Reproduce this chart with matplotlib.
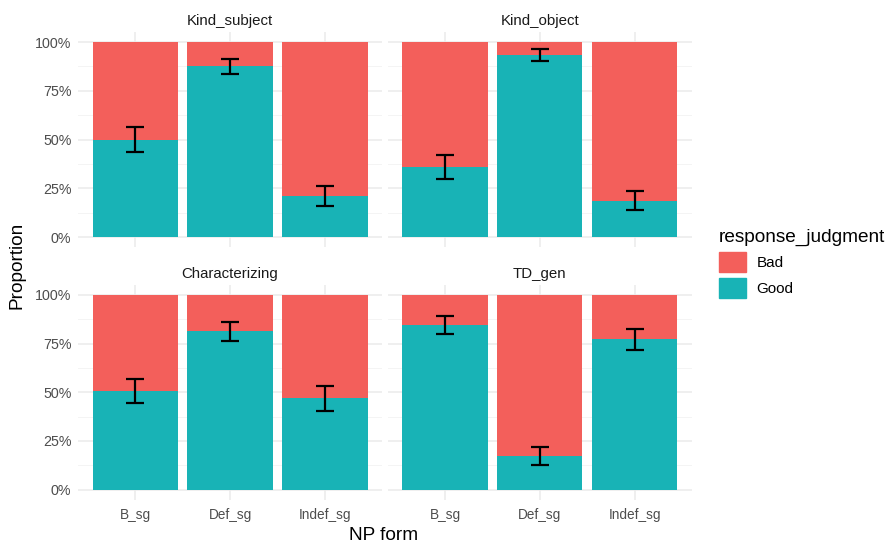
import numpy as np
import matplotlib.pyplot as plt
from matplotlib.patches import Patch
plt.rcParams['font.family'] = ['Liberation Sans', 'DejaVu Sans']

# 数据
np_forms = ['B_sg', 'Def_sg', 'Indef_sg']
panels = ['Kind_subject', 'Kind_object', 'Characterizing', 'TD_gen']
good = {
    'Kind_subject':   [0.50, 0.875, 0.21],
    'Kind_object':    [0.357, 0.935, 0.186],
    'Characterizing': [0.505, 0.812, 0.468],
    'TD_gen':         [0.843, 0.175, 0.771],
}
err_low = {
    'Kind_subject':   [0.436, 0.836, 0.157],
    'Kind_object':    [0.297, 0.904, 0.14],
    'Characterizing': [0.443, 0.762, 0.404],
    'TD_gen':         [0.80, 0.125, 0.716],
}
err_high = {
    'Kind_subject':   [0.564, 0.914, 0.262],
    'Kind_object':    [0.419, 0.964, 0.236],
    'Characterizing': [0.570, 0.861, 0.532],
    'TD_gen':         [0.892, 0.221, 0.822],
}

bad_color = '#F35F5B'
good_color = '#18B3B6'

fig = plt.figure(figsize=(8.86, 5.42), dpi=100)
W, H = 886, 542
lefts = [78.4, 388.1]
tops = [32.25, 285.0]
pw, ph = 303.4, 214.5

x = np.arange(1, 4)
for i, name in enumerate(panels):
    r, c = divmod(i, 2)
    ax = fig.add_axes([lefts[c] / W, 1 - (tops[r] + ph) / H, pw / W, ph / H])
    g = np.array(good[name])
    lo = np.array(err_low[name])
    hi = np.array(err_high[name])
    ax.bar(x, g, width=0.9, color=good_color, zorder=2)
    ax.bar(x, 1 - g, bottom=g, width=0.9, color=bad_color, zorder=2)
    ax.errorbar(x, (lo + hi) / 2, yerr=(hi - lo) / 2, fmt='none', ecolor='black',
                elinewidth=1.6, capsize=6.3, capthick=1.6, zorder=3)
    ax.set_xlim(0.4, 3.6)
    ax.set_ylim(-0.05, 1.05)
    ax.set_yticks([0, 0.25, 0.5, 0.75, 1.0])
    ax.set_yticks([0.125, 0.375, 0.625, 0.875], minor=True)
    ax.set_xticks(x)
    ax.grid(True, which='major', color='#EBEBEB', linewidth=1.1, zorder=0)
    ax.grid(True, which='minor', axis='y', color='#F2F2F2', linewidth=0.6, zorder=0)
    for s in ax.spines.values():
        s.set_visible(False)
    ax.tick_params(axis='x', length=0, labelsize=9.8, labelcolor='#4D4D4D', pad=6)
    ax.tick_params(axis='y', length=0, labelsize=10.3, labelcolor='#4D4D4D', pad=5)
    ax.tick_params(which='minor', length=0)
    ax.set_axisbelow(True)
    if c == 0:
        ax.set_yticklabels(['0%', '25%', '50%', '75%', '100%'])
    else:
        ax.set_yticklabels([])
    if r == 1:
        ax.set_xticklabels(np_forms)
    else:
        ax.set_xticklabels([])
    ax.set_title(name, fontsize=10.8, color='#1A1A1A', pad=5)

fig.text(384 / W, 1 - 535 / H, 'NP form', ha='center', va='center', fontsize=13.7)
fig.text(17 / W, 1 - 265 / H, 'Proportion', ha='center', va='center',
         rotation=90, fontsize=13.7)

handles = [Patch(color=bad_color, label='Bad'), Patch(color=good_color, label='Good')]
fig.legend(handles=handles, title='response_judgment', loc='upper left',
           bbox_to_anchor=(705 / W, 1 - 215 / H), frameon=False, fontsize=11,
           title_fontsize=13.7, alignment='left', handlelength=1.76,
           handleheight=1.63, labelspacing=0.4, handletextpad=0.7)

fig.savefig('out.png', dpi=100)
